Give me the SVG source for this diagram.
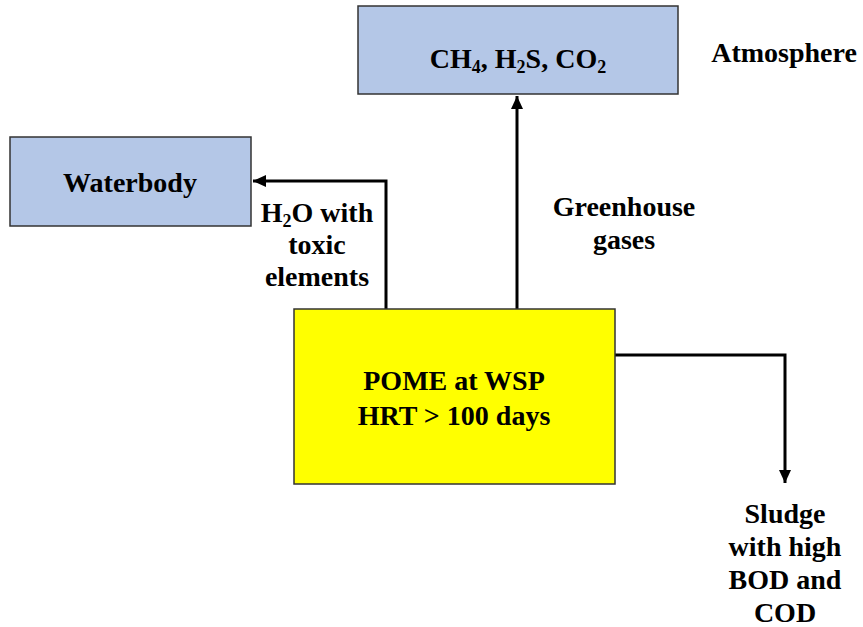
<svg xmlns="http://www.w3.org/2000/svg" width="863" height="627" viewBox="0 0 863 627">
<style>
.box{stroke:#333;stroke-width:1.5}
.blue{fill:#B4C7E7}
.yellow{fill:#FFFF00}
.t{font-weight:bold;font-size:28px;fill:#000;text-anchor:middle}
.sub{font-size:18px}
.conn{fill:none;stroke:#000;stroke-width:3}
</style>
<defs>
<marker id="ah" markerUnits="userSpaceOnUse" markerWidth="14" markerHeight="14" viewBox="0 0 14 14" refX="13" refY="7" orient="auto">
<path d="M0,1 L13,7 L0,13 Z" fill="#000"/>
</marker>
</defs>
<rect width="863" height="627" fill="#fff"/>
<g id="connectors">
<path class="conn" d="M517,309 V96" marker-end="url(#ah)"/>
<path class="conn" d="M386,309 V181 H253" marker-end="url(#ah)"/>
<path class="conn" d="M615,355 H785 V483" marker-end="url(#ah)"/>
</g>
<g font-family="Liberation Serif, serif">
<g id="gases">
<rect class="box blue" x="358" y="6" width="320" height="88"/>
<text class="t" x="518" y="68">CH<tspan class="sub" dy="5">4</tspan><tspan dy="-5">, H</tspan><tspan class="sub" dy="5">2</tspan><tspan dy="-5">S, CO</tspan><tspan class="sub" dy="5">2</tspan></text>
</g>
<g id="atmosphere">
<text class="t" x="784" y="62">Atmosphere</text>
</g>
<g id="waterbody">
<rect class="box blue" x="10" y="137" width="241" height="89"/>
<text class="t" x="130" y="192">Waterbody</text>
</g>
<g id="pome">
<rect class="box yellow" x="294" y="309" width="321" height="175"/>
<text class="t" x="454" y="390">POME at WSP</text>
<text class="t" x="454" y="425">HRT &gt; 100 days</text>
</g>
<g id="label-h2o">
<text class="t" x="317" y="222">H<tspan class="sub" dy="5">2</tspan><tspan dy="-5">O with</tspan></text>
<text class="t" x="317" y="254">toxic</text>
<text class="t" x="317" y="286">elements</text>
</g>
<g id="label-greenhouse">
<text class="t" x="624" y="216">Greenhouse</text>
<text class="t" x="624" y="249">gases</text>
</g>
<g id="sludge">
<text class="t" x="785" y="523">Sludge</text>
<text class="t" x="785" y="556">with high</text>
<text class="t" x="785" y="589">BOD and</text>
<text class="t" x="785" y="622">COD</text>
</g>
</g>
</svg>
